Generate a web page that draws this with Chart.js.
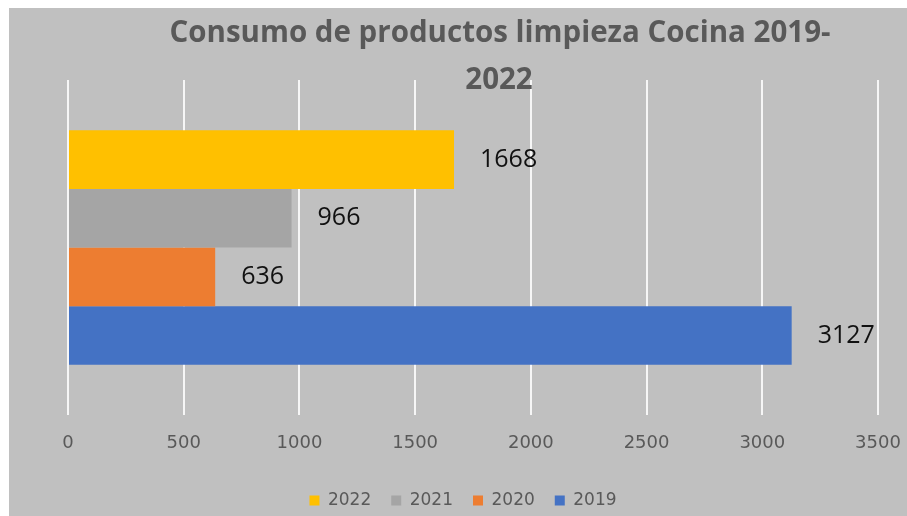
<!DOCTYPE html>
<html>
<head>
<meta charset="utf-8">
<script src="https://cdn.jsdelivr.net/npm/chart.js@4"></script>
<style>
  html, body { margin: 0; padding: 0; background: #fff; }
  #wrap { position: absolute; left: 9px; top: 8px; width: 898px; height: 508px; background: #c0c0c0; overflow: hidden; }
</style>
</head>
<body>
<div id="wrap"><canvas id="chartConsumo" width="898" height="508"></canvas></div>
<script>
// consumo anual de productos de limpieza en cocina
const years = ["2022", "2021", "2020", "2019"];
const consumo = [1668, 966, 636, 3127];
const colores = ["#FFC000", "#A5A5A5", "#ED7D31", "#4472C4"];
const xTicks = [0, 500, 1000, 1500, 2000, 2500, 3000, 3500];
const tituloLineas = ["Consumo de productos limpieza Cocina 2019-", "2022"];

const TEXT = "#595959";

// etiquetas con el valor a la derecha de cada barra
const valueLabels = {
  id: "valueLabels",
  afterDatasetsDraw(chart) {
    const { ctx } = chart;
    ctx.save();
    ctx.font = "25px 'Open Sans'";
    ctx.fillStyle = "#111";
    ctx.textBaseline = "middle";
    ctx.textAlign = "left";
    chart.data.datasets.forEach((ds, i) => {
      const bar = chart.getDatasetMeta(i).data[0];
      ctx.fillText(String(ds.data[0]), bar.x + 26, bar.y);
    });
    ctx.restore();
  },
};

// título en dos líneas, encima de la rejilla
const tituloPlugin = {
  id: "tituloPlugin",
  afterDraw(chart) {
    const { ctx } = chart;
    ctx.save();
    ctx.font = "bold 29.5px 'Open Sans'";
    ctx.fillStyle = TEXT;
    ctx.textAlign = "center";
    ctx.textBaseline = "middle";
    ctx.fillText(tituloLineas[0], 491, 26);
    ctx.fillText(tituloLineas[1], 490, 73);
    ctx.restore();
  },
};

new Chart(document.getElementById("chartConsumo"), {
  type: "bar",
  data: {
    labels: [""],
    datasets: years.map((y, i) => ({
      label: y,
      data: [consumo[i]],
      backgroundColor: colores[i],
      borderWidth: 0,
      barPercentage: 1,
      categoryPercentage: 0.7,
    })),
  },
  options: {
    responsive: false,
    animation: false,
    indexAxis: "y",
    layout: { padding: { top: 72, left: 39, right: 29, bottom: -3 } },
    plugins: {
      title: { display: false },
      tooltip: { enabled: false },
      legend: {
        position: "bottom",
        labels: { color: TEXT, font: { family: "DejaVu Sans", size: 17 }, boxWidth: 10, boxHeight: 10, padding: 20 },
      },
    },
    scales: {
      x: {
        min: xTicks[0],
        max: xTicks[xTicks.length - 1],
        afterBuildTicks: (axis) => { axis.ticks = xTicks.map((v) => ({ value: v })); },
        // margen fijo a los lados del eje en vez del ancho de las etiquetas
        afterFit: (axis) => { axis.paddingLeft = 59; axis.paddingRight = 0; },
        ticks: { color: TEXT, font: { family: "DejaVu Sans", size: 18, lineHeight: 0.05 }, padding: 28, callback: (v) => String(v) },
        grid: { color: "rgba(255,255,255,0.85)", lineWidth: 2, drawTicks: false },
        border: { display: false },
      },
      y: { display: false },
    },
  },
  plugins: [valueLabels, tituloPlugin],
});
</script>
</body>
</html>
